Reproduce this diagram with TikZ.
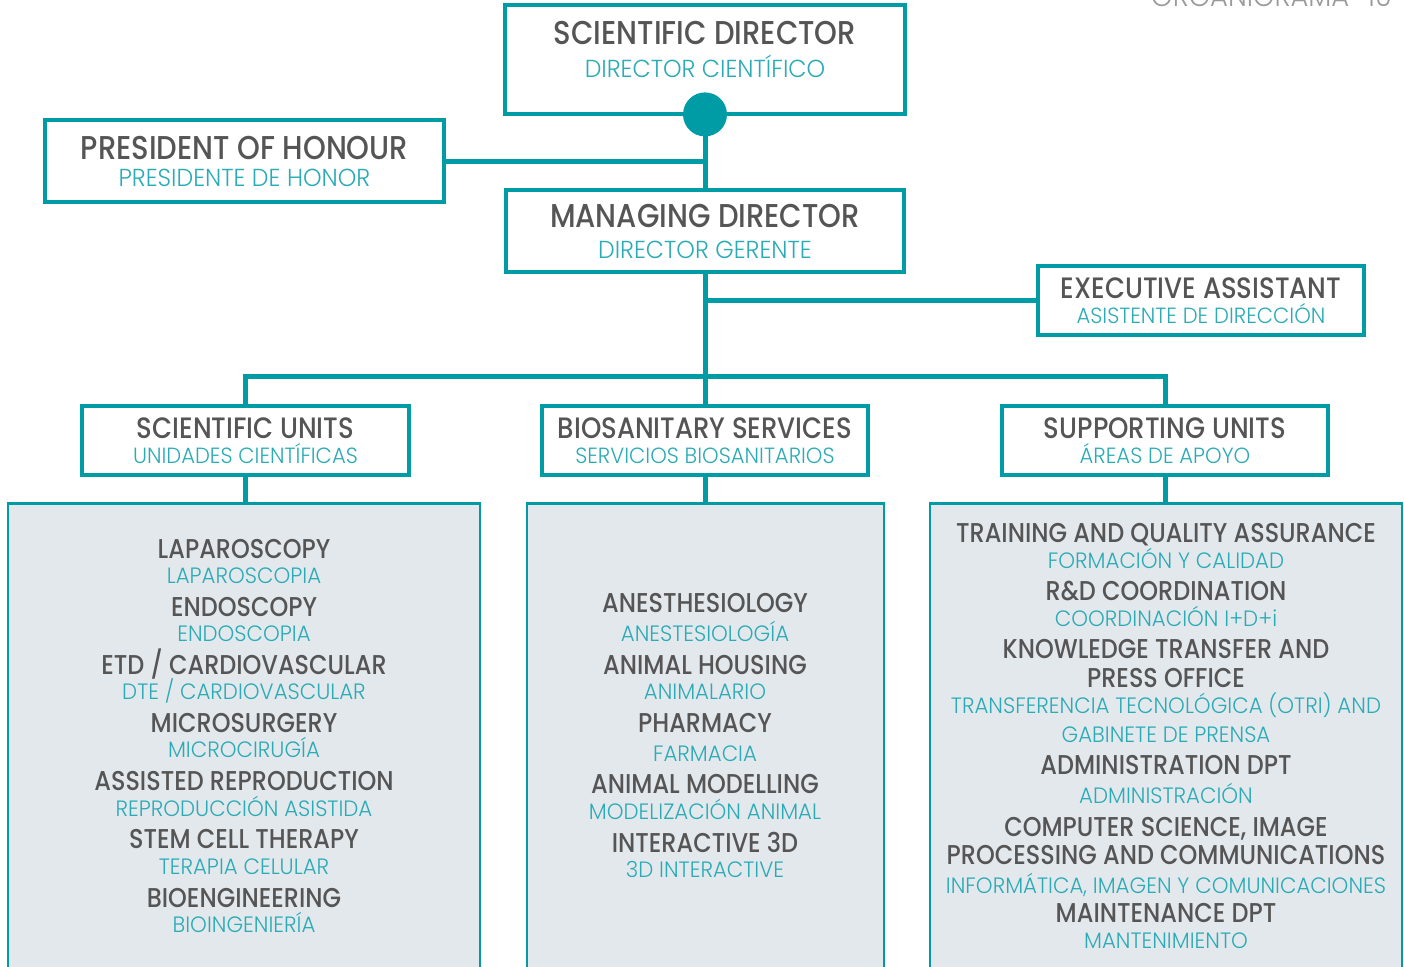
\documentclass[tikz,border=0pt]{standalone}
\usepackage{fontspec}
\setmainfont{Poppins}[UprightFont=* Medium, FakeStretch=0.88]
\newfontfamily\lightfont{Poppins}[UprightFont=* Light, FakeStretch=0.96]
\definecolor{teal}{HTML}{009CA6}
\definecolor{tealtext}{HTML}{2AABB6}
\definecolor{darktext}{HTML}{555555}
\definecolor{boxfill}{HTML}{E3E8EC}
\definecolor{graytext}{HTML}{9A9A9A}
\tikzset{
  conn/.style={draw=teal, line width=5pt},
  hbox/.style={draw=teal, line width=2.8pt, fill=white, rectangle, inner sep=0pt},
  bigbox/.style={draw=teal, line width=2.8pt, fill=boxfill, rectangle, inner sep=0pt},
  border/.style={draw=teal, line width=2.8pt},
  topdk/.style={anchor=base, inner sep=0pt, text=darktext, font=\fontsize{33}{33}\selectfont},
  toptl/.style={anchor=base, inner sep=0pt, text=tealtext, font=\lightfont\fontsize{24.6}{24.6}\selectfont},
  subdk/.style={anchor=base, inner sep=0pt, text=darktext, font=\fontsize{29.5}{29.5}\selectfont},
  subtl/.style={anchor=base, inner sep=0pt, text=tealtext, font=\lightfont\fontsize{22}{22}\selectfont},
  itdk/.style={anchor=base, inner sep=0pt, text=darktext, font=\fontsize{27.2}{27.2}\selectfont},
  ittl/.style={anchor=base, inner sep=0pt, text=tealtext, font=\lightfont\fontsize{22.2}{22.2}\selectfont},
  pagehd/.style={anchor=base west, inner sep=0pt, text=graytext, font=\lightfont\fontsize{28.5}{28.5}\selectfont},
}
\begin{document}
\begin{tikzpicture}[x=1pt,y=-1pt]
\useasboundingbox (0,0) rectangle (1404,966);
\clip (0,0) rectangle (1404,966);
\fill[white] (0,0) rectangle (1404,966);

% page header (cut off at the top edge, as in the reference)
\node[pagehd] (pg1) at (1151,7) {ORGANIGRAMA};
\node[pagehd] (pg2) at (1367,7) {10};

% boxes
\node[hbox, minimum width=398pt, minimum height=107pt] (sd) at (705,59.5) {};
\node[hbox, minimum width=397pt, minimum height=81pt] (ph) at (244.5,161) {};
\node[hbox, minimum width=397pt, minimum height=80pt] (md) at (705,231) {};
\node[hbox, minimum width=324pt, minimum height=67pt] (ea) at (1201,300.5) {};
\node[hbox, minimum width=325pt, minimum height=67pt] (su) at (245.5,440.5) {};
\node[hbox, minimum width=324pt, minimum height=67pt] (bs) at (705,440.5) {};
\node[hbox, minimum width=324pt, minimum height=67pt] (sp) at (1165,440.5) {};
\node[bigbox, minimum width=472pt, minimum height=500pt, anchor=north] (lb) at (244,502) {};
\node[bigbox, minimum width=357pt, minimum height=500pt, anchor=north] (mb) at (705.5,502) {};
\node[bigbox, minimum width=472pt, minimum height=500pt, anchor=north] (rb) at (1166,502) {};

% connectors
\draw[conn] (sd.south) -- (md.north);
\draw[conn] (ph.east) -- (ph.east -| sd.south);
\draw[conn] (md.south) -- (bs.north);
\draw[conn] (ea.west) -- (ea.west -| md.south);
\draw[conn] (su.north) -- ++(0,-29) -| (sp.north);
\draw[conn] (su.south) -- (su.south |- lb.north);
\draw[conn] (bs.south) -- (bs.south |- mb.north);
\draw[conn] (sp.south) -- (sp.south |- rb.north);

% box borders over connector ends
\draw[border] (sd.south west) rectangle (sd.north east);
\draw[border] (ph.south west) rectangle (ph.north east);
\draw[border] (md.south west) rectangle (md.north east);
\draw[border] (ea.south west) rectangle (ea.north east);
\draw[border] (su.south west) rectangle (su.north east);
\draw[border] (bs.south west) rectangle (bs.north east);
\draw[border] (sp.south west) rectangle (sp.north east);
\node[circle, fill=teal, minimum size=44pt, inner sep=0pt] (dot) at (sd.south) {};

% header texts
\node[topdk] (sd1) at (705,45) {SCIENTIFIC DIRECTOR};
\node[toptl] (sd2) at (705,77.5) {DIRECTOR CIENTÍFICO};
\node[topdk] (ph1) at (244.5,159) {PRESIDENT OF HONOUR};
\node[toptl] (ph2) at (244.5,186.5) {PRESIDENTE DE HONOR};
\node[topdk] (md1) at (705,227) {MANAGING DIRECTOR};
\node[toptl] (md2) at (705,258.5) {DIRECTOR GERENTE};
\node[subdk] (ea1) at (1201,298) {EXECUTIVE ASSISTANT};
\node[subtl] (ea2) at (1201,323) {ASISTENTE DE DIRECCIÓN};
\node[subdk] (su1) at (245.5,438) {SCIENTIFIC UNITS};
\node[subtl] (su2) at (245.5,463) {UNIDADES CIENTÍFICAS};
\node[subdk] (bs1) at (705,438) {BIOSANITARY SERVICES};
\node[subtl] (bs2) at (705,463) {SERVICIOS BIOSANITARIOS};
\node[subdk] (sp1) at (1165,438) {SUPPORTING UNITS};
\node[subtl] (sp2) at (1165,463) {ÁREAS DE APOYO};

% left column
\node[itdk] (l1) at (244,558) {LAPAROSCOPY};
\node[ittl] (l2) at (244,583) {LAPAROSCOPIA};
\node[itdk] (l3) at (244,616) {ENDOSCOPY};
\node[ittl] (l4) at (244,641) {ENDOSCOPIA};
\node[itdk] (l5) at (244,674) {ETD / CARDIOVASCULAR};
\node[ittl] (l6) at (244,699) {DTE / CARDIOVASCULAR};
\node[itdk] (l7) at (244,732) {MICROSURGERY};
\node[ittl] (l8) at (244,757) {MICROCIRUGÍA};
\node[itdk] (l9) at (244,790) {ASSISTED REPRODUCTION};
\node[ittl] (l10) at (244,816) {REPRODUCCIÓN ASISTIDA};
\node[itdk] (l11) at (244,848) {STEM CELL THERAPY};
\node[ittl] (l12) at (244,874) {TERAPIA CELULAR};
\node[itdk] (l13) at (244,907) {BIOENGINEERING};
\node[ittl] (l14) at (244,932) {BIOINGENIERÍA};

% middle column
\node[itdk] (m1) at (705,612) {ANESTHESIOLOGY};
\node[ittl] (m2) at (705,641) {ANESTESIOLOGÍA};
\node[itdk] (m3) at (705,674) {ANIMAL HOUSING};
\node[ittl] (m4) at (705,699) {ANIMALARIO};
\node[itdk] (m5) at (705,732) {PHARMACY};
\node[ittl] (m6) at (705,761) {FARMACIA};
\node[itdk] (m7) at (705,793) {ANIMAL MODELLING};
\node[ittl] (m8) at (705,819) {MODELIZACIÓN ANIMAL};
\node[itdk] (m9) at (705,852) {INTERACTIVE 3D};
\node[ittl] (m10) at (705,877) {3D INTERACTIVE};

% right column
\node[itdk] (r1) at (1166,542) {TRAINING AND QUALITY ASSURANCE};
\node[ittl] (r2) at (1166,568) {FORMACIÓN Y CALIDAD};
\node[itdk] (r3) at (1166,600) {R\&D COORDINATION};
\node[ittl] (r4) at (1166,626) {COORDINACIÓN I+D+i};
\node[itdk] (r5) at (1166,658) {KNOWLEDGE TRANSFER AND};
\node[itdk] (r6) at (1166,687) {PRESS OFFICE};
\node[ittl] (r7) at (1166,713) {TRANSFERENCIA TECNOLÓGICA (OTRI) AND};
\node[ittl] (r8) at (1166,742) {GABINETE DE PRENSA};
\node[itdk] (r9) at (1166,774) {ADMINISTRATION DPT};
\node[ittl] (r10) at (1166,803) {ADMINISTRACIÓN};
\node[itdk] (r11) at (1166,836) {COMPUTER SCIENCE, IMAGE};
\node[itdk] (r12) at (1166,864) {PROCESSING AND COMMUNICATIONS};
\node[ittl] (r13) at (1166,893) {INFORMÁTICA, IMAGEN Y COMUNICACIONES};
\node[itdk] (r14) at (1166,922) {MAINTENANCE DPT};
\node[ittl] (r15) at (1166,948) {MANTENIMIENTO};
\end{tikzpicture}
\end{document}
